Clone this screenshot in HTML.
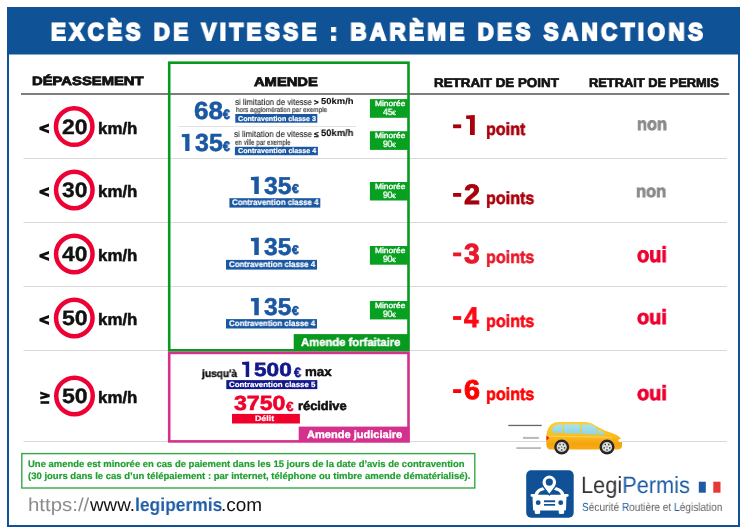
<!DOCTYPE html>
<html><head><meta charset="utf-8"><style>
html,body{margin:0;padding:0;background:#fff}
body{width:745px;height:532px;position:relative;overflow:hidden;font-family:"Liberation Sans",sans-serif}
svg{position:absolute;left:0;top:0}
.t{position:absolute;white-space:nowrap;line-height:1;font-weight:bold;transform-origin:0 0;will-change:transform;text-rendering:geometricPrecision}
</style></head><body>
<svg width="745" height="532" viewBox="0 0 745 532">
<defs>
<linearGradient id="carg" x1="0" y1="0" x2="0" y2="1">
<stop offset="0" stop-color="#fdd038"/><stop offset="0.5" stop-color="#fbbd1e"/><stop offset="0.8" stop-color="#f5a310"/><stop offset="1" stop-color="#f7ad18"/>
</linearGradient>
<linearGradient id="wing" x1="0" y1="0" x2="0" y2="1">
<stop offset="0" stop-color="#a9e4ef"/><stop offset="1" stop-color="#8fd3e2"/>
</linearGradient>
</defs>
<!-- frame -->
<rect x="7" y="7" width="733" height="47.5" fill="#0f5296"/>
<rect x="8" y="8" width="731" height="518" fill="none" stroke="#0f5296" stroke-width="2"/>
<!-- separators -->
<rect x="21" y="93" width="708.3" height="2" fill="#7e7e7e"/>
<rect x="23.5" y="158" width="703.5" height="1" fill="#d9d9d9"/>
<rect x="23.5" y="222" width="703.5" height="1" fill="#d9d9d9"/>
<rect x="23.5" y="286" width="703.5" height="1" fill="#d9d9d9"/>
<rect x="23.5" y="350" width="703.5" height="1" fill="#d9d9d9"/>
<rect x="23.5" y="441" width="703.5" height="1" fill="#d9d9d9"/>
<rect x="178" y="126" width="178" height="1" fill="#e3e3e3"/>
<!-- boxes -->
<rect x="169.2" y="62.7" width="239.3" height="287.6" fill="none" stroke="#08991f" stroke-width="2.6"/>
<rect x="169.2" y="352.9" width="239.3" height="88.5" fill="none" stroke="#d3318d" stroke-width="2.6"/>
<rect x="293.7" y="334.1" width="115.3" height="16" fill="#08991f"/>
<rect x="298.7" y="426.6" width="110.8" height="15.5" fill="#d3318d"/>
<!-- bars -->
<rect x="235.3" y="114" width="82" height="8.7" fill="#1b58a2"/>
<rect x="234.9" y="146.8" width="83" height="8.4" fill="#1b58a2"/>
<rect x="229.4" y="198.2" width="90.9" height="9.4" fill="#1b58a2"/>
<rect x="226" y="259.9" width="91" height="9.7" fill="#1b58a2"/>
<rect x="226" y="319.1" width="91" height="9.4" fill="#1b58a2"/>
<rect x="226.3" y="380.1" width="91" height="9" fill="#13198a"/>
<rect x="232" y="413.9" width="67.9" height="9.6" fill="#f0002b"/>
<!-- badges -->
<rect x="369.9" y="99.1" width="38" height="18.7" fill="#08a020"/>
<rect x="369.9" y="131.2" width="38" height="18.7" fill="#08a020"/>
<rect x="369.9" y="182" width="38" height="18.5" fill="#08a020"/>
<rect x="369.9" y="246" width="38" height="18.7" fill="#08a020"/>
<rect x="369.9" y="301" width="38" height="18.4" fill="#08a020"/>
<!-- signs -->
<g fill="#fff" stroke="#ee0034" stroke-width="4.5">
<circle cx="74.2" cy="126.6" r="18.25"/>
<circle cx="74.3" cy="190" r="18.25"/>
<circle cx="74.3" cy="254" r="18.25"/>
<circle cx="74.3" cy="318" r="18.25"/>
<circle cx="74.5" cy="395.9" r="18.25"/>
</g>
<!-- note box -->
<rect x="21.8" y="453.6" width="453" height="34.4" fill="none" stroke="#35a844" stroke-width="1.4"/>
<!-- speed lines -->
<rect x="508.3" y="424.8" width="33.4" height="1.3" fill="#666"/>
<rect x="523" y="436.9" width="15.9" height="2" fill="#b8b8b8"/>
<rect x="516.3" y="447.2" width="24.6" height="1.8" fill="#b8b8b8"/>
<!-- car -->
<path d="M550 449.4 Q546.3 449 546.3 444 L546.4 438 C546.6 428 550.5 422.3 558.5 422.1 L586 422 Q591 422.3 597 426.5 L605.2 430.8 Q611 432.5 615 434.3 Q620.5 436.8 621.8 440 L622.2 445.5 Q621.8 449.4 617.5 449.4 Z" fill="url(#carg)"/>
<path d="M552.3 433.1 Q551.8 428.5 554 426 Q555.5 424.7 558.5 424.6 L563 424.6 L563 433.1 Z" fill="url(#wing)"/>
<path d="M563.9 424.2 L580.3 424.2 L580.8 433.8 L564.1 433.3 Z" fill="url(#wing)"/>
<path d="M581.6 424.4 L590 424.6 Q594 425.5 596.9 428 L597.2 434.8 L582.1 434 Z" fill="url(#wing)"/>
<path d="M598 429 L604.3 433 L604.1 435 L598.3 434.8 Z" fill="url(#wing)"/>
<path d="M549 436.2 L612 437.3" stroke="#fde27a" stroke-width="0.7" fill="none" opacity="0.9"/>
<path d="M546.4 435.6 L549.2 437.9 L546.5 440.6 Z" fill="#ee1020"/>
<ellipse cx="620.3" cy="440.4" rx="1.9" ry="1.6" fill="#fff"/>
<circle cx="561.7" cy="447.0" r="7.5" fill="#262626"/>
<circle cx="561.7" cy="447.0" r="5.1" fill="#d4d4d4"/>
<circle cx="561.7" cy="447.0" r="3.2" fill="#e6e6e6"/>
<circle cx="563.40" cy="444.65" r="0.8" fill="#3c4a30"/>
<circle cx="564.46" cy="447.90" r="0.8" fill="#3c4a30"/>
<circle cx="561.70" cy="449.90" r="0.8" fill="#3c4a30"/>
<circle cx="558.94" cy="447.90" r="0.8" fill="#3c4a30"/>
<circle cx="560.00" cy="444.65" r="0.8" fill="#3c4a30"/>
<circle cx="561.7" cy="447.0" r="0.9" fill="#9a9a9a"/>
<circle cx="607.0" cy="447.0" r="7.5" fill="#262626"/>
<circle cx="607.0" cy="447.0" r="5.1" fill="#d4d4d4"/>
<circle cx="607.0" cy="447.0" r="3.2" fill="#e6e6e6"/>
<circle cx="608.70" cy="444.65" r="0.8" fill="#3c4a30"/>
<circle cx="609.76" cy="447.90" r="0.8" fill="#3c4a30"/>
<circle cx="607.00" cy="449.90" r="0.8" fill="#3c4a30"/>
<circle cx="604.24" cy="447.90" r="0.8" fill="#3c4a30"/>
<circle cx="605.30" cy="444.65" r="0.8" fill="#3c4a30"/>
<circle cx="607.0" cy="447.0" r="0.9" fill="#9a9a9a"/>
<!-- logo -->
<rect x="526.2" y="470.2" width="47.5" height="47.5" rx="5" fill="#0f5096"/>
<path d="M535.8 496.5 Q536.5 488 549.5 488 Q562.5 488 563.2 496.5" fill="none" stroke="#fff" stroke-width="3.2"/>
<path d="M532.5 496 Q533 494.5 535 494.8 L564 494.8 Q566 494.5 566.5 496 L566 509.5 Q566 510.5 565 510.5 L534 510.5 Q533 510.5 533 509.5 Z" fill="#fff"/>
<rect x="530.6" y="493.9" width="4.8" height="2.9" rx="1.2" fill="#fff"/>
<rect x="563.8" y="493.9" width="4.8" height="2.9" rx="1.2" fill="#fff"/>
<rect x="534.7" y="508" width="5.4" height="6" rx="1.5" fill="#fff"/>
<rect x="558.7" y="508" width="5.4" height="6" rx="1.5" fill="#fff"/>
<circle cx="538.2" cy="502.7" r="2.4" fill="#0f5096"/>
<circle cx="560.7" cy="502.7" r="2.4" fill="#0f5096"/>
<rect x="544" y="500.3" width="11.1" height="1.9" fill="#0f5096"/>
<rect x="544" y="504" width="11.1" height="1.7" fill="#0f5096"/>
<path d="M549.3 494.8 L543.33 486.94 A7.5 7.5 0 1 1 555.27 486.94 Z" fill="#fff" stroke="#0f5096" stroke-width="1.4"/>
<circle cx="549.3" cy="482.09999999999997" r="3.6" fill="#0f5096"/>
<!-- flag -->
<rect x="698.8" y="481.7" width="7" height="11" fill="#1d5ca5"/>
<rect x="713.3" y="481.7" width="7.2" height="11" fill="#e53935"/>
<polygon points="49.0,123.4 49.0,126.5 43.6,128.4 49.0,130.3 49.0,133.4 39.4,129.8 39.4,127.0" fill="#111"/>
<polygon points="49.0,186.9 49.0,190.0 43.6,191.9 49.0,193.8 49.0,196.9 39.4,193.3 39.4,190.5" fill="#111"/>
<polygon points="49.0,250.9 49.0,254.0 43.6,255.9 49.0,257.8 49.0,260.9 39.4,257.3 39.4,254.5" fill="#111"/>
<polygon points="49.0,314.9 49.0,318.0 43.6,319.9 49.0,321.8 49.0,324.9 39.4,321.3 39.4,318.5" fill="#111"/>
<polygon points="40.2,391.4 49.7,394.5 49.7,396.9 40.2,399.6 40.2,396.8 45.3,395.6 40.2,394.2" fill="#111"/>
<rect x="40.5" y="401.2" width="8.7" height="2.6" fill="#111"/>
<rect x="453.1" y="124.4" width="8.1" height="3.8" fill="#a8000c"/>
<rect x="453.1" y="193.0" width="8.1" height="3.8" fill="#a8000c"/>
<rect x="453.1" y="252.5" width="8.1" height="3.8" fill="#e8192b"/>
<rect x="453.1" y="316.1" width="8.1" height="3.8" fill="#fa0a16"/>
<rect x="453.1" y="389.2" width="8.1" height="3.8" fill="#ff0000"/>
<polygon points="181.8,134.2 189.5,133.7 189.5,151.0 185.2,151.0 185.2,137.3 181.8,136.9" fill="#1b58a2"/>
<polygon points="250.9,177.0 258.8,176.5 258.8,194.0 254.3,194.0 254.3,180.4 250.9,180.0" fill="#1b58a2"/>
<polygon points="250.9,238.0 258.8,237.5 258.8,254.9 254.3,254.9 254.3,241.4 250.9,241.0" fill="#1b58a2"/>
<polygon points="250.9,298.2 258.8,297.7 258.8,315.3 254.3,315.3 254.3,301.6 250.9,301.2" fill="#1b58a2"/>
<polygon points="242.1,362.0 249.2,361.5 249.2,377.0 245.7,377.0 245.7,365.0 242.1,364.6" fill="#13198a"/>
<polygon points="466.1,115.5 474.8,115.0 474.8,135.0 470.0,135.0 470.0,119.2 466.1,118.8" fill="#a8000c"/>
</svg>

<div class="t" style="left:50.70px;top:21px;font-size:23.94px;color:#fff;transform:scaleX(0.9300);letter-spacing:3.779px;-webkit-text-stroke:1.90px #fff">EXCÈS DE VITESSE : BARÈME DES SANCTIONS</div>
<div class="t" style="left:31.87px;top:75px;font-size:12.04px;color:#111;transform:scaleX(1.2305);-webkit-text-stroke:0.80px #111">DÉPASSEMENT</div>
<div class="t" style="left:254.30px;top:76px;font-size:12.50px;color:#111;transform:scaleX(1.1770);-webkit-text-stroke:0.80px #111">AMENDE</div>
<div class="t" style="left:434.13px;top:77px;font-size:12.75px;color:#111;transform:scaleX(1.0488);-webkit-text-stroke:0.70px #111">RETRAIT DE POINT</div>
<div class="t" style="left:589.25px;top:77px;font-size:12.75px;color:#111;transform:scaleX(1.0072);-webkit-text-stroke:0.70px #111">RETRAIT DE PERMIS</div>
<div class="t" style="left:61.69px;top:118px;font-size:20.83px;color:#111;transform:scaleX(1.1038);-webkit-text-stroke:0.35px #111">20</div>
<div class="t" style="left:97.58px;top:121px;font-size:16.64px;color:#111;transform:scaleX(1.0156);-webkit-text-stroke:0.50px #111">km/h</div>
<div class="t" style="left:61.83px;top:181px;font-size:20.83px;color:#111;transform:scaleX(1.0979);-webkit-text-stroke:0.35px #111">30</div>
<div class="t" style="left:97.58px;top:184px;font-size:16.64px;color:#111;transform:scaleX(1.0156);-webkit-text-stroke:0.50px #111">km/h</div>
<div class="t" style="left:61.96px;top:245px;font-size:20.83px;color:#111;transform:scaleX(1.0917);-webkit-text-stroke:0.35px #111">40</div>
<div class="t" style="left:97.58px;top:248px;font-size:16.64px;color:#111;transform:scaleX(1.0156);-webkit-text-stroke:0.50px #111">km/h</div>
<div class="t" style="left:61.55px;top:309px;font-size:20.83px;color:#111;transform:scaleX(1.1103);-webkit-text-stroke:0.35px #111">50</div>
<div class="t" style="left:97.58px;top:312px;font-size:16.64px;color:#111;transform:scaleX(1.0156);-webkit-text-stroke:0.50px #111">km/h</div>
<div class="t" style="left:61.55px;top:387px;font-size:20.83px;color:#111;transform:scaleX(1.1103);-webkit-text-stroke:0.35px #111">50</div>
<div class="t" style="left:97.58px;top:390px;font-size:16.64px;color:#111;transform:scaleX(1.0156);-webkit-text-stroke:0.50px #111">km/h</div>
<div class="t" style="left:193.72px;top:100px;font-size:24.67px;color:#1b58a2;transform:scaleX(1.0579);-webkit-text-stroke:0.55px #1b58a2">68</div>
<div class="t" style="left:223.28px;top:108px;font-size:13.73px;color:#1b58a2;transform:scaleX(0.8897);-webkit-text-stroke:0.80px #1b58a2">€</div>
<div class="t" style="left:194.50px;top:132px;font-size:24.67px;color:#1b58a2;transform:scaleX(1.0127);-webkit-text-stroke:0.55px #1b58a2">35</div>
<div class="t" style="left:223.28px;top:140px;font-size:13.64px;color:#1b58a2;transform:scaleX(0.8958);-webkit-text-stroke:0.80px #1b58a2">€</div>
<div class="t" style="left:235.49px;top:98px;font-size:8.73px;color:#222;font-weight:normal;transform:scaleX(0.9063);-webkit-text-stroke:0.10px #222">si limitation de vitesse</div>
<div class="t" style="left:314.43px;top:99px;font-size:7.91px;color:#111;transform:scaleX(1.0162);-webkit-text-stroke:0.30px #111">&gt;</div>
<div class="t" style="left:321.09px;top:97px;font-size:8.69px;color:#111;transform:scaleX(1.0878);-webkit-text-stroke:0.10px #111">50km/h</div>
<div class="t" style="left:235.67px;top:108px;font-size:6.80px;color:#333;font-weight:normal;transform:scaleX(0.9339);-webkit-text-stroke:0.15px #333">hors agglomération par exemple</div>
<div class="t" style="left:237.82px;top:116px;font-size:7.06px;color:#fff;transform:scaleX(1.0107);-webkit-text-stroke:0.20px #fff">Contravention classe 3</div>
<div class="t" style="left:234.39px;top:130px;font-size:8.73px;color:#222;font-weight:normal;transform:scaleX(0.9194);-webkit-text-stroke:0.10px #222">si limitation de vitesse</div>
<div class="t" style="left:314.44px;top:131px;font-size:8.05px;color:#111;transform:scaleX(1.0219);-webkit-text-stroke:0.30px #111">≤</div>
<div class="t" style="left:321.45px;top:129px;font-size:9.53px;color:#111;transform:scaleX(0.9862);-webkit-text-stroke:0.10px #111">50km/h</div>
<div class="t" style="left:234.73px;top:139px;font-size:7.83px;color:#333;font-weight:normal;transform:scaleX(0.7985);-webkit-text-stroke:0.15px #333">en ville par exemple</div>
<div class="t" style="left:237.72px;top:148px;font-size:7.06px;color:#fff;transform:scaleX(1.0136);-webkit-text-stroke:0.20px #fff">Contravention classe 4</div>
<div class="t" style="left:374.57px;top:100px;font-size:7.74px;color:#fff;font-weight:normal;transform:scaleX(1.0858);-webkit-text-stroke:0.35px #fff">Minorée</div>
<div class="t" style="left:383.00px;top:108px;font-size:9.18px;color:#fff;font-weight:normal;transform:scaleX(0.9429);-webkit-text-stroke:0.35px #fff">45</div>
<div class="t" style="left:392.29px;top:111px;font-size:6.21px;color:#fff;font-weight:normal;transform:scaleX(1.1606);-webkit-text-stroke:0.20px #fff">€</div>
<div class="t" style="left:374.57px;top:132px;font-size:7.74px;color:#fff;font-weight:normal;transform:scaleX(1.0858);-webkit-text-stroke:0.35px #fff">Minorée</div>
<div class="t" style="left:383.01px;top:140px;font-size:9.46px;color:#fff;font-weight:normal;transform:scaleX(0.8883);-webkit-text-stroke:0.35px #fff">90</div>
<div class="t" style="left:392.29px;top:143px;font-size:6.21px;color:#fff;font-weight:normal;transform:scaleX(1.1606);-webkit-text-stroke:0.20px #fff">€</div>
<div class="t" style="left:374.57px;top:183px;font-size:7.74px;color:#fff;font-weight:normal;transform:scaleX(1.0858);-webkit-text-stroke:0.35px #fff">Minorée</div>
<div class="t" style="left:383.01px;top:191px;font-size:9.46px;color:#fff;font-weight:normal;transform:scaleX(0.8883);-webkit-text-stroke:0.35px #fff">90</div>
<div class="t" style="left:392.29px;top:194px;font-size:6.21px;color:#fff;font-weight:normal;transform:scaleX(1.1606);-webkit-text-stroke:0.20px #fff">€</div>
<div class="t" style="left:374.57px;top:247px;font-size:7.74px;color:#fff;font-weight:normal;transform:scaleX(1.0858);-webkit-text-stroke:0.35px #fff">Minorée</div>
<div class="t" style="left:383.01px;top:255px;font-size:9.46px;color:#fff;font-weight:normal;transform:scaleX(0.8883);-webkit-text-stroke:0.35px #fff">90</div>
<div class="t" style="left:392.29px;top:258px;font-size:6.21px;color:#fff;font-weight:normal;transform:scaleX(1.1606);-webkit-text-stroke:0.20px #fff">€</div>
<div class="t" style="left:374.57px;top:302px;font-size:7.74px;color:#fff;font-weight:normal;transform:scaleX(1.0858);-webkit-text-stroke:0.35px #fff">Minorée</div>
<div class="t" style="left:383.01px;top:310px;font-size:9.46px;color:#fff;font-weight:normal;transform:scaleX(0.8883);-webkit-text-stroke:0.35px #fff">90</div>
<div class="t" style="left:392.29px;top:313px;font-size:6.21px;color:#fff;font-weight:normal;transform:scaleX(1.1606);-webkit-text-stroke:0.20px #fff">€</div>
<div class="t" style="left:263.69px;top:175px;font-size:24.39px;color:#1b58a2;transform:scaleX(1.0122);-webkit-text-stroke:0.55px #1b58a2">35</div>
<div class="t" style="left:292.04px;top:183px;font-size:12.82px;color:#1b58a2;transform:scaleX(0.9410);-webkit-text-stroke:0.80px #1b58a2">€</div>
<div class="t" style="left:231.78px;top:199px;font-size:8.25px;color:#fff;transform:scaleX(0.9581);-webkit-text-stroke:0.20px #fff">Contravention classe 4</div>
<div class="t" style="left:263.69px;top:236px;font-size:24.26px;color:#1b58a2;transform:scaleX(1.0131);-webkit-text-stroke:0.55px #1b58a2">35</div>
<div class="t" style="left:292.08px;top:244px;font-size:12.49px;color:#1b58a2;transform:scaleX(0.9505);-webkit-text-stroke:0.80px #1b58a2">€</div>
<div class="t" style="left:228.68px;top:261px;font-size:8.25px;color:#fff;transform:scaleX(0.9536);-webkit-text-stroke:0.20px #fff">Contravention classe 4</div>
<div class="t" style="left:263.68px;top:296px;font-size:24.16px;color:#1b58a2;transform:scaleX(1.0159);-webkit-text-stroke:0.55px #1b58a2">35</div>
<div class="t" style="left:292.08px;top:305px;font-size:12.56px;color:#1b58a2;transform:scaleX(0.9490);-webkit-text-stroke:0.80px #1b58a2">€</div>
<div class="t" style="left:228.69px;top:320px;font-size:7.99px;color:#fff;transform:scaleX(0.9843);-webkit-text-stroke:0.20px #fff">Contravention classe 4</div>
<div class="t" style="left:301.37px;top:338px;font-size:11.49px;color:#fff;transform:scaleX(0.9804);-webkit-text-stroke:0.40px #fff">Amende forfaitaire</div>
<div class="t" style="left:201.54px;top:370px;font-size:10.45px;color:#111;transform:scaleX(0.9741);-webkit-text-stroke:0.40px #111">jusqu'à</div>
<div class="t" style="left:253.95px;top:361px;font-size:19.03px;color:#13198a;transform:scaleX(1.1896);-webkit-text-stroke:0.60px #13198a">500</div>
<div class="t" style="left:293.53px;top:366px;font-size:13.55px;color:#13198a;transform:scaleX(0.9346);-webkit-text-stroke:0.50px #13198a">€</div>
<div class="t" style="left:304.70px;top:366px;font-size:12.94px;color:#111;transform:scaleX(1.0285);-webkit-text-stroke:0.50px #111">max</div>
<div class="t" style="left:228.68px;top:381px;font-size:7.61px;color:#fff;transform:scaleX(1.0382);-webkit-text-stroke:0.20px #fff">Contravention classe 5</div>
<div class="t" style="left:233.85px;top:394px;font-size:20.51px;color:#f0002b;transform:scaleX(1.1283);-webkit-text-stroke:0.60px #f0002b">3750</div>
<div class="t" style="left:286.16px;top:400px;font-size:13.43px;color:#f0002b;transform:scaleX(1.0118);-webkit-text-stroke:0.40px #f0002b">€</div>
<div class="t" style="left:298.30px;top:400px;font-size:12.27px;color:#111;transform:scaleX(1.0470);-webkit-text-stroke:0.60px #111">récidive</div>
<div class="t" style="left:255.12px;top:415px;font-size:7.80px;color:#fff;transform:scaleX(1.1301);-webkit-text-stroke:0.20px #fff">Délit</div>
<div class="t" style="left:306.86px;top:430px;font-size:10.59px;color:#fff;transform:scaleX(1.0447);-webkit-text-stroke:0.40px #fff">Amende judiciaire</div>
<div class="t" style="left:486.38px;top:121px;font-size:17.62px;color:#a8000c;transform:scaleX(0.9123);-webkit-text-stroke:0.60px #a8000c">point</div>
<div class="t" style="left:463.68px;top:181px;font-size:28.14px;color:#a8000c;transform:scaleX(1.0244);-webkit-text-stroke:0.90px #a8000c">2</div>
<div class="t" style="left:486.38px;top:190px;font-size:17.62px;color:#a8000c;transform:scaleX(0.9141);-webkit-text-stroke:0.60px #a8000c">points</div>
<div class="t" style="left:463.88px;top:240px;font-size:27.67px;color:#e8192b;transform:scaleX(1.0203);-webkit-text-stroke:0.90px #e8192b">3</div>
<div class="t" style="left:486.37px;top:249px;font-size:17.44px;color:#e8192b;transform:scaleX(0.9241);-webkit-text-stroke:0.60px #e8192b">points</div>
<div class="t" style="left:464.17px;top:304px;font-size:28.58px;color:#fa0a16;transform:scaleX(0.9162);-webkit-text-stroke:0.90px #fa0a16">4</div>
<div class="t" style="left:486.37px;top:313px;font-size:17.44px;color:#fa0a16;transform:scaleX(0.9241);-webkit-text-stroke:0.60px #fa0a16">points</div>
<div class="t" style="left:463.59px;top:376px;font-size:27.40px;color:#ff0000;transform:scaleX(1.0495);-webkit-text-stroke:0.90px #ff0000">6</div>
<div class="t" style="left:486.37px;top:386px;font-size:17.44px;color:#ff0000;transform:scaleX(0.9241);-webkit-text-stroke:0.60px #ff0000">points</div>
<div class="t" style="left:636.66px;top:116px;font-size:17.64px;color:#8a8a8a;transform:scaleX(0.9308);-webkit-text-stroke:0.80px #8a8a8a">non</div>
<div class="t" style="left:636.47px;top:183px;font-size:17.30px;color:#8a8a8a;transform:scaleX(0.9556);-webkit-text-stroke:0.80px #8a8a8a">non</div>
<div class="t" style="left:637.33px;top:244px;font-size:21.76px;color:#ec0030;transform:scaleX(0.9182);-webkit-text-stroke:0.90px #ec0030">oui</div>
<div class="t" style="left:636.87px;top:308px;font-size:20.55px;color:#ec0030;transform:scaleX(0.9720);-webkit-text-stroke:0.90px #ec0030">oui</div>
<div class="t" style="left:636.87px;top:384px;font-size:20.55px;color:#ec0030;transform:scaleX(0.9720);-webkit-text-stroke:0.90px #ec0030">oui</div>
<div class="t" style="left:28.14px;top:460px;font-size:9.38px;color:#20a030;transform:scaleX(1.0106);-webkit-text-stroke:0.20px #20a030">Une amende est minorée en cas de paiement dans les 15 jours de la date d’avis de contravention</div>
<div class="t" style="left:28.20px;top:472px;font-size:9.38px;color:#20a030;transform:scaleX(1.0155);-webkit-text-stroke:0.20px #20a030">(30 jours dans le cas d’un télépaiement : par internet, téléphone ou timbre amende dématérialisé).</div>
<div class="t" style="left:27.66px;top:496px;font-size:18.66px;color:#8c8c8c;font-weight:normal;transform:scaleX(1.0946)">https://</div>
<div class="t" style="left:89.97px;top:496px;font-size:18.66px;color:#111;font-weight:normal;transform:scaleX(1.0082)">www.</div>
<div class="t" style="left:134.97px;top:496px;font-size:18.66px;color:#1d5ca5;transform:scaleX(0.9352)">legipermis</div>
<div class="t" style="left:221.46px;top:496px;font-size:18.66px;color:#111;font-weight:normal;transform:scaleX(1.0160)">.com</div>
<div class="t" style="left:581.22px;top:474px;font-size:23.53px;color:#333;font-weight:normal;transform:scaleX(0.9252)">Legi<span style="color:#1d5ca5">Permis</span></div>
<div class="t" style="left:582.26px;top:502px;font-size:11.69px;color:#666;font-weight:normal;transform:scaleX(0.8641)"><span style="color:#1d5ca5">S</span>écurité <span style="color:#1d5ca5">R</span>outière et <span style="color:#1d5ca5">L</span>égislation</div>
</body></html>
